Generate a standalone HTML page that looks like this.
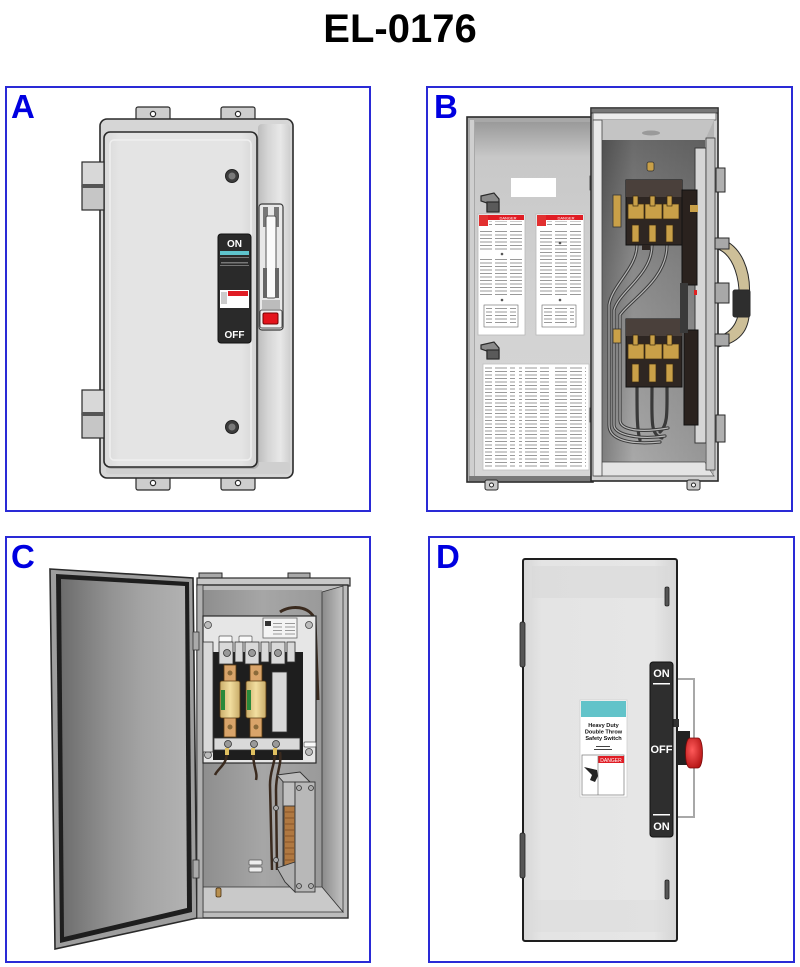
<!DOCTYPE html>
<html><head><meta charset="utf-8"><style>
html,body{margin:0;padding:0;background:#fff;}
svg{display:block}
</style></head><body>
<svg width="800" height="967" viewBox="0 0 800 967" xmlns="http://www.w3.org/2000/svg" font-family="Liberation Sans, Arial, sans-serif">
<defs>
 <pattern id="txt" width="15" height="3.5" patternUnits="userSpaceOnUse"><rect x="0" y="0" width="12" height="1" fill="#9a9a9a"/></pattern>
 <linearGradient id="bdoor" x1="0" y1="0" x2="0" y2="1"><stop offset="0" stop-color="#9a9a9a"/><stop offset="0.1" stop-color="#c8c8c8"/><stop offset="0.5" stop-color="#d2d2d2"/><stop offset="1" stop-color="#d6d6d6"/></linearGradient>
 <linearGradient id="bint" x1="0" y1="0" x2="0" y2="1"><stop offset="0" stop-color="#6a6a6a"/><stop offset="0.4" stop-color="#8a8a8a"/><stop offset="1" stop-color="#a8a8a8"/></linearGradient>
 <linearGradient id="bintx" x1="0" y1="0" x2="1" y2="0"><stop offset="0" stop-color="#000" stop-opacity="0.25"/><stop offset="0.3" stop-color="#000" stop-opacity="0"/><stop offset="1" stop-color="#000" stop-opacity="0.1"/></linearGradient>
 <linearGradient id="cdoor" x1="0" y1="0" x2="1" y2="0"><stop offset="0" stop-color="#6c6c6c"/><stop offset="0.2" stop-color="#808080"/><stop offset="0.4" stop-color="#939393"/><stop offset="0.65" stop-color="#a4a4a4"/><stop offset="1" stop-color="#b2b2b2"/></linearGradient>
 <linearGradient id="cback" x1="0" y1="0" x2="1" y2="0"><stop offset="0" stop-color="#8e8e8e"/><stop offset="0.5" stop-color="#a6a6a6"/><stop offset="1" stop-color="#9a9a9a"/></linearGradient>
 <linearGradient id="cwall" x1="0" y1="0" x2="1" y2="0"><stop offset="0" stop-color="#8a8a8a"/><stop offset="1" stop-color="#c2c2c2"/></linearGradient>
 <linearGradient id="astrip" x1="0" y1="0" x2="1" y2="0"><stop offset="0" stop-color="#bdbdbd"/><stop offset="0.3" stop-color="#d4d4d4"/><stop offset="0.7" stop-color="#e8e8e8"/><stop offset="1" stop-color="#cfcfcf"/></linearGradient>
 <linearGradient id="adoor" x1="0" y1="0" x2="1" y2="0"><stop offset="0" stop-color="#d9d9d9"/><stop offset="0.1" stop-color="#e4e4e4"/><stop offset="0.9" stop-color="#e4e4e4"/><stop offset="1" stop-color="#d4d4d4"/></linearGradient>
 <linearGradient id="ddoor" x1="0" y1="0" x2="1" y2="0"><stop offset="0" stop-color="#d6d6d6"/><stop offset="0.12" stop-color="#e4e4e4"/><stop offset="0.85" stop-color="#e6e6e6"/><stop offset="1" stop-color="#d4d4d4"/></linearGradient>
 <linearGradient id="fuse" x1="0" y1="0" x2="1" y2="0"><stop offset="0" stop-color="#c9ad6a"/><stop offset="0.5" stop-color="#f2dea0"/><stop offset="1" stop-color="#c9ad6a"/></linearGradient>
 <radialGradient id="knob" cx="0.4" cy="0.4" r="0.7"><stop offset="0" stop-color="#ff5a5a"/><stop offset="1" stop-color="#b01010"/></radialGradient>
</defs>

<!-- Title -->
<text x="400" y="42" text-anchor="middle" font-size="40" font-weight="bold" fill="#000">EL-0176</text>

<!-- Panel frames -->
<g fill="none" stroke="#2a2ad6" stroke-width="2">
 <rect x="6" y="87" width="364" height="424"/>
 <rect x="427" y="87" width="365" height="424"/>
 <rect x="6" y="537" width="364" height="425"/>
 <rect x="429" y="537" width="365" height="425"/>
</g>
<g font-size="33" font-weight="bold" fill="#0000e0">
 <text x="11" y="118">A</text>
 <text x="434" y="118">B</text>
 <text x="11" y="568">C</text>
 <text x="436" y="568">D</text>
</g>

<!-- ================= PANEL A ================= -->
<g stroke="#2a2a2a" stroke-width="1.2" fill="#cdcdcd">
 <rect x="136" y="107" width="34" height="16" rx="2"/>
 <rect x="221" y="107" width="34" height="16" rx="2"/>
 <rect x="136" y="474" width="34" height="16" rx="2"/>
 <rect x="221" y="474" width="34" height="16" rx="2"/>
</g>
<g fill="#fff" stroke="#2a2a2a" stroke-width="1.2">
 <circle cx="153" cy="114" r="2.6"/><circle cx="238" cy="114" r="2.6"/>
 <circle cx="153" cy="483" r="2.6"/><circle cx="238" cy="483" r="2.6"/>
</g>
<rect x="100" y="119" width="193" height="359" rx="7" fill="#d6d6d6" stroke="#2a2a2a" stroke-width="1.6"/>
<rect x="258" y="124" width="32" height="349" rx="4" fill="url(#astrip)"/>
<rect x="106" y="462" width="184" height="12" rx="3" fill="#cfcfcf"/>
<rect x="106" y="134" width="153" height="335" rx="6" fill="#9a9a9a" opacity="0.6"/>
<rect x="104" y="132" width="153" height="335" rx="6" fill="url(#adoor)" stroke="#2a2a2a" stroke-width="1.6"/>
<rect x="110" y="140" width="141" height="320" rx="4" fill="none" stroke="#efefef" stroke-width="1.5"/>
<!-- hinges -->
<g stroke="#2a2a2a" stroke-width="1.2">
 <rect x="82" y="162" width="22" height="24" fill="#d8d8d8"/>
 <rect x="82" y="186" width="22" height="24" fill="#c6c6c6"/>
 <rect x="82" y="390" width="22" height="24" fill="#d8d8d8"/>
 <rect x="82" y="414" width="22" height="24" fill="#c6c6c6"/>
</g>
<rect x="82" y="184" width="22" height="4" fill="#555"/>
<rect x="82" y="412" width="22" height="4" fill="#555"/>
<!-- screws -->
<g><circle cx="232" cy="176" r="6.5" fill="#3c3c3c" stroke="#222"/><circle cx="232" cy="176" r="3.5" fill="#7a7a7a"/>
<circle cx="232" cy="427" r="6.5" fill="#3c3c3c" stroke="#222"/><circle cx="232" cy="427" r="3.5" fill="#7a7a7a"/></g>
<!-- handle label -->
<rect x="218" y="234" width="33" height="109" rx="3" fill="#2a2a2a" stroke="#111"/>
<text x="234.5" y="247" text-anchor="middle" font-size="10" font-weight="bold" fill="#fff">ON</text>
<rect x="220" y="251" width="29" height="4" fill="#5ec3cc"/>
<rect x="220" y="257" width="29" height="0.8" fill="#888"/>
<rect x="221" y="262" width="27" height="1.5" fill="#777"/>
<rect x="220" y="265" width="29" height="0.8" fill="#888"/>
<rect x="220" y="290" width="29" height="18" fill="#fff"/>
<rect x="228" y="291" width="20" height="5" fill="#e01c24"/>
<rect x="221" y="292" width="6" height="12" fill="#ccc"/>
<text x="234.5" y="338" text-anchor="middle" font-size="10" font-weight="bold" fill="#fff">OFF</text>
<!-- lever -->
<rect x="259" y="204" width="24" height="126" rx="3" fill="#e8e8e8" stroke="#3a3a3a" stroke-width="1.2"/>
<rect x="263" y="207" width="5" height="20" fill="#777"/>
<rect x="274" y="207" width="5" height="20" fill="#777"/>
<rect x="266" y="216" width="10" height="82" rx="2" fill="#fafafa" stroke="#555"/>
<rect x="263" y="268" width="4" height="30" fill="#666"/>
<rect x="275" y="268" width="4" height="30" fill="#666"/>
<rect x="262" y="300" width="18" height="9" fill="#bcbcbc"/>
<rect x="260" y="310" width="22" height="18" rx="2" fill="#f0f0f0" stroke="#555"/>
<rect x="263" y="313" width="15" height="11" rx="1.5" fill="#e4141c" stroke="#700"/>

<!-- ================= PANEL B ================= -->
<!-- left door -->
<rect x="467" y="117" width="126" height="365" fill="#a8a8a8" stroke="#2a2a2a" stroke-width="1.6"/>
<rect x="470" y="120" width="4" height="358" fill="#cfcfcf"/>
<rect x="475" y="122" width="116" height="354" fill="url(#bdoor)"/>
<rect x="469" y="476" width="122" height="5" fill="#7a7a7a"/>
<rect x="511" y="178" width="45" height="19" fill="#fff"/>
<!-- latches -->
<g stroke="#2a2a2a" stroke-width="1.2">
 <path d="M481,196 L494,193 L499,199 L499,211 L487,211 L487,203 L481,201 Z" fill="#8a8a8a"/>
 <rect x="487" y="202" width="12" height="10" fill="#5a5a5a"/>
 <path d="M481,345 L494,342 L499,348 L499,358 L487,358 L487,351 L481,349 Z" fill="#8a8a8a"/>
 <rect x="487" y="350" width="12" height="9" fill="#5a5a5a"/>
</g>
<!-- danger labels -->
<g>
 <rect x="478" y="214" width="47" height="121" fill="#fff" stroke="#b8b8b8" stroke-width="0.8"/>
 <rect x="479" y="215" width="9" height="11" fill="#e23030"/>
 <rect x="488" y="215" width="36" height="5" fill="#e01c24"/>
 <text x="508" y="219.3" text-anchor="middle" font-size="4" fill="#fff">DANGER</text>
 <rect x="489" y="221" width="34" height="6" fill="url(#txt)"/>
 <rect x="480" y="229" width="43" height="22" fill="url(#txt)"/>
 <circle cx="502" cy="254" r="1.3" fill="#555"/>
 <rect x="480" y="258" width="43" height="38" fill="url(#txt)"/>
 <circle cx="502" cy="300" r="1.3" fill="#555"/>
 <rect x="484" y="305" width="34" height="22" fill="#fff" stroke="#666" stroke-width="0.6"/>
 <rect x="486" y="308" width="30" height="16" fill="url(#txt)"/>

 <rect x="536" y="214" width="48" height="121" fill="#fff" stroke="#b8b8b8" stroke-width="0.8"/>
 <rect x="537" y="215" width="9" height="11" fill="#e23030"/>
 <rect x="546" y="215" width="37" height="5" fill="#e01c24"/>
 <text x="566" y="219.3" text-anchor="middle" font-size="4" fill="#fff">DANGER</text>
 <rect x="547" y="221" width="34" height="6" fill="url(#txt)"/>
 <rect x="538" y="229" width="43" height="66" fill="url(#txt)"/>
 <circle cx="560" cy="243" r="1.3" fill="#555"/>
 <circle cx="560" cy="300" r="1.3" fill="#555"/>
 <rect x="542" y="305" width="34" height="22" fill="#fff" stroke="#666" stroke-width="0.6"/>
 <rect x="544" y="308" width="30" height="16" fill="url(#txt)"/>

 <rect x="483" y="364" width="106" height="106" fill="#fff" stroke="#c0c0c0" stroke-width="0.8"/>
 <rect x="485" y="367" width="30" height="100" fill="url(#txt)"/>
 <rect x="519" y="367" width="30" height="100" fill="url(#txt)"/>
 <rect x="553" y="367" width="33" height="100" fill="url(#txt)"/>
</g>
<!-- door hinges -->
<rect x="590" y="176" width="4" height="14" fill="#aaa" stroke="#333" stroke-width="0.8"/>
<rect x="590" y="408" width="4" height="14" fill="#aaa" stroke="#333" stroke-width="0.8"/>

<!-- right box -->
<rect x="591" y="108" width="127" height="373" fill="#cfcfcf" stroke="#2a2a2a" stroke-width="1.6"/>
<rect x="591" y="108" width="127" height="5" fill="#777" stroke="#2a2a2a" stroke-width="1"/>
<rect x="593" y="113" width="123" height="7" fill="#ececec" stroke="#555" stroke-width="0.8"/>
<polygon points="597,120 714,120 705,140 603,140" fill="#c4c4c4"/>
<rect x="602" y="140" width="103" height="322" fill="url(#bint)"/>
<rect x="602" y="140" width="103" height="322" fill="url(#bintx)"/>
<polygon points="602,462 705,462 714,476 595,476" fill="#e4e4e4" stroke="#444" stroke-width="0.8"/>
<polygon points="705,140 714,120 714,476 705,462" fill="#b4b4b4"/>
<rect x="593" y="120" width="9" height="356" fill="#e8e8e8" stroke="#444" stroke-width="0.8"/>
<ellipse cx="651" cy="133" rx="9" ry="2.5" fill="#9a9a9a"/>
<!-- right flange -->
<rect x="695" y="148" width="11" height="295" fill="#d6d6d6" stroke="#3a3a3a" stroke-width="1"/>
<rect x="706" y="138" width="9" height="332" fill="#c6c6c6" stroke="#3a3a3a" stroke-width="0.8"/>
<!-- knob top -->
<rect x="647" y="162" width="7" height="9" rx="2" fill="#c9a048" stroke="#333" stroke-width="0.8"/>
<!-- cables -->
<g fill="none" stroke-linecap="round">
 <g stroke="#3a3a3a" stroke-width="3.2">
  <path d="M637,245 C637,268 612,285 609,305 L609,425 C609,440 630,445 660,442"/>
  <path d="M652,245 C652,275 620,290 614,310 L614,425 C614,435 640,440 665,436"/>
  <path d="M667,245 C667,280 630,300 620,315 L620,420 C620,430 640,433 668,428"/>
  <path d="M637,387 C637,415 637,430 640,440"/>
  <path d="M652,387 C652,420 650,435 662,438"/>
  <path d="M667,387 C667,412 668,425 660,432"/>
 </g>
 <g stroke="#b8b8b8" stroke-width="1.2">
  <path d="M637,245 C637,268 612,285 609,305 L609,425 C609,440 630,445 660,442"/>
  <path d="M652,245 C652,275 620,290 614,310 L614,425 C614,435 640,440 665,436"/>
  <path d="M667,245 C667,280 630,300 620,315 L620,420 C620,430 640,433 668,428"/>
 </g>
</g>
<!-- bus bar -->
<rect x="613" y="195" width="8" height="32" fill="#c9a048" stroke="#333" stroke-width="0.8"/>
<rect x="613" y="329" width="8" height="14" fill="#c9a048" stroke="#333" stroke-width="0.8"/>
<!-- upper switch block -->
<rect x="626" y="180" width="56" height="65" fill="#2e2622" stroke="#111"/>
<rect x="626" y="180" width="56" height="17" fill="#4a403b"/>
<g fill="#c9a048" stroke="#3a2a10" stroke-width="0.7">
 <rect x="628" y="204" width="16" height="15"/><rect x="645" y="204" width="17" height="15"/><rect x="663" y="204" width="16" height="15"/>
 <rect x="633" y="196" width="5" height="10"/><rect x="650" y="196" width="5" height="10"/><rect x="667" y="196" width="5" height="10"/>
 <rect x="632" y="225" width="7" height="17"/><rect x="649" y="225" width="7" height="17"/><rect x="666" y="225" width="7" height="17"/>
</g>
<rect x="642" y="245" width="8" height="5" fill="#2e2622"/>
<!-- lower switch block -->
<rect x="626" y="319" width="56" height="68" fill="#2e2622" stroke="#111"/>
<rect x="626" y="319" width="56" height="17" fill="#4a403b"/>
<g fill="#c9a048" stroke="#3a2a10" stroke-width="0.7">
 <rect x="628" y="344" width="16" height="15"/><rect x="645" y="344" width="17" height="15"/><rect x="663" y="344" width="16" height="15"/>
 <rect x="633" y="335" width="5" height="10"/><rect x="650" y="335" width="5" height="10"/><rect x="667" y="335" width="5" height="10"/>
 <rect x="632" y="364" width="7" height="18"/><rect x="649" y="364" width="7" height="18"/><rect x="666" y="364" width="7" height="18"/>
</g>
<!-- black bar -->
<rect x="682" y="190" width="15" height="95" fill="#2a221e" stroke="#111"/>
<rect x="684" y="330" width="14" height="95" fill="#2a221e" stroke="#111"/>
<rect x="680" y="283" width="8" height="50" fill="#3a3a3a"/>
<rect x="694" y="290" width="3" height="5" fill="#e02020"/>
<rect x="690" y="205" width="8" height="7" fill="#c9a048"/>
<!-- external handle -->
<g stroke="#2a2a2a" stroke-width="1">
 <rect x="716" y="168" width="9" height="24" fill="#b0b0b0"/>
 <rect x="716" y="415" width="9" height="27" fill="#b0b0b0"/>
 <path d="M718,238 C742,244 752,272 749,300 C752,328 742,342 718,347 L718,337 C735,331 740,318 739,300 C740,282 735,256 718,249 Z" fill="#cdbf98"/>
 <rect x="715" y="238" width="14" height="11" fill="#a8a8a8"/>
 <rect x="715" y="283" width="14" height="20" fill="#a8a8a8"/>
 <rect x="715" y="334" width="14" height="12" fill="#a8a8a8"/>
 <rect x="733" y="290" width="17" height="27" rx="2" fill="#2e2e2e"/>
</g>
<!-- mounting tabs -->
<g fill="#c8c8c8" stroke="#2a2a2a" stroke-width="1">
 <rect x="485" y="480" width="13" height="10" rx="2"/>
 <rect x="687" y="480" width="13" height="10" rx="2"/>
</g>
<circle cx="491.5" cy="485" r="2" fill="#fff" stroke="#222"/>
<circle cx="693.5" cy="485" r="2" fill="#fff" stroke="#222"/>

<!-- ================= PANEL C ================= -->
<!-- door -->
<polygon points="50,569 193,578 197,918 55,949" fill="#9e9e9e" stroke="#2a2a2a" stroke-width="1.6"/>
<polygon points="56,574 189,582 192,912 60,943" fill="#1e1e1e"/>
<polygon points="61,579 185,586 187,908 64,937" fill="url(#cdoor)"/>
<!-- box -->
<g fill="#a8a8a8" stroke="#2a2a2a" stroke-width="1">
 <rect x="199" y="573" width="23" height="6"/>
 <rect x="288" y="573" width="22" height="6"/>
</g>
<rect x="197" y="578" width="153" height="8" fill="#c8c8c8" stroke="#2a2a2a" stroke-width="1.2"/>
<rect x="197" y="585" width="151" height="333" fill="#bcbcbc" stroke="#2a2a2a" stroke-width="1.4"/>
<rect x="203" y="590" width="119" height="297" fill="url(#cback)"/>
<polygon points="322,592 343,586 343,912 322,888" fill="url(#cwall)" stroke="#333" stroke-width="0.8"/>
<polygon points="203,887 322,887 343,912 203,912" fill="#c9c9c9" stroke="#333" stroke-width="0.8"/>
<rect x="197" y="585" width="6" height="333" fill="#b0b0b0" stroke="#333" stroke-width="0.8"/>
<rect x="193" y="632" width="6" height="18" fill="#aaa" stroke="#333" stroke-width="0.8"/>
<rect x="193" y="860" width="6" height="18" fill="#aaa" stroke="#333" stroke-width="0.8"/>
<!-- cables behind -->
<path d="M280,612 C290,605 310,605 315,620 L318,700" fill="none" stroke="#3a2a1e" stroke-width="3"/>
<!-- switch plate -->
<rect x="203" y="616" width="113" height="147" fill="#e6e6e6" stroke="#2a2a2a" stroke-width="1.2"/>
<rect x="263" y="618" width="34" height="20" fill="#f4f4f4" stroke="#666" stroke-width="0.8"/>
<rect x="265" y="621" width="6" height="5" fill="#333"/>
<rect x="273" y="622" width="22" height="14" fill="url(#txt)"/>
<g fill="#bbb" stroke="#444" stroke-width="0.8">
 <circle cx="208" cy="625" r="3.5"/><circle cx="309" cy="625" r="3.5"/>
 <circle cx="208" cy="755" r="3.5"/><circle cx="309" cy="752" r="3.5"/>
</g>
<g fill="#fafafa" stroke="#555" stroke-width="0.7">
 <rect x="219" y="636" width="13" height="6" rx="1"/>
 <rect x="239" y="636" width="13" height="6" rx="1"/>
 <rect x="304" y="742" width="12" height="5" rx="1"/>
</g>
<!-- pole assemblies -->
<rect x="213" y="652" width="90" height="108" fill="#1e1e1e"/>
<g fill="#d9d9d9" stroke="#333" stroke-width="0.8">
 <rect x="203" y="642" width="10" height="110"/>
 <rect x="219" y="642" width="14" height="22"/>
 <rect x="245" y="642" width="14" height="22"/>
 <rect x="271" y="642" width="14" height="22"/>
 <rect x="235" y="642" width="8" height="20"/>
 <rect x="261" y="642" width="8" height="20"/>
 <rect x="287" y="642" width="8" height="20"/>
 <rect x="272" y="672" width="15" height="60"/>
 <rect x="214" y="738" width="86" height="12"/>
</g>
<g fill="#999" stroke="#333" stroke-width="0.8">
 <circle cx="227" cy="653" r="3.5"/><circle cx="252" cy="653" r="3.5"/><circle cx="278" cy="653" r="3.5"/>
 <circle cx="228" cy="744" r="3.5"/><circle cx="254" cy="744" r="3.5"/><circle cx="276" cy="744" r="3.5"/>
</g>
<!-- fuses -->
<g stroke="#5a3a10" stroke-width="0.8">
 <rect x="224" y="665" width="12" height="72" fill="#d9a46a"/>
 <rect x="250" y="665" width="12" height="72" fill="#d9a46a"/>
 <rect x="220" y="681" width="20" height="37" rx="2" fill="url(#fuse)"/>
 <rect x="246" y="681" width="20" height="37" rx="2" fill="url(#fuse)"/>
</g>
<rect x="221" y="690" width="4" height="20" fill="#2a8a3a"/>
<rect x="247" y="690" width="4" height="20" fill="#2a8a3a"/>
<g fill="#8a6a3a"><circle cx="230" cy="673" r="2.5"/><circle cx="256" cy="673" r="2.5"/><circle cx="230" cy="727" r="2.5"/><circle cx="256" cy="727" r="2.5"/></g>
<!-- wires from poles -->
<g fill="none" stroke="#3a2a1e" stroke-width="2.5">
 <path d="M227,752 C227,765 218,768 215,775"/>
 <path d="M253,752 C253,768 258,772 256,780"/>
 <path d="M275,752 C275,765 270,770 270,785 L272,870"/>
 <path d="M280,752 C282,765 276,772 276,790 L277,870"/>
</g>
<g fill="#e0c060"><rect x="225" y="748" width="4" height="7"/><rect x="251" y="748" width="4" height="7"/><rect x="273" y="748" width="4" height="7"/></g>
<!-- terminal block -->
<g stroke="#333" stroke-width="0.9">
 <polygon points="277,775 300,772 310,782 287,786" fill="#bdbdbd"/>
 <rect x="283" y="782" width="12" height="87" fill="#c0c0c0"/>
 <rect x="284" y="806" width="11" height="60" fill="#b07840"/>
 <rect x="295" y="782" width="20" height="110" fill="#b8b8b8"/>
 <polygon points="277,868 295,862 295,892 285,882" fill="#b0b0b0"/>
</g>
<g fill="none" stroke="#7a4a20" stroke-width="0.8">
 <path d="M285,812 h9 M285,818 h9 M285,824 h9 M285,830 h9 M285,836 h9 M285,842 h9 M285,848 h9 M285,854 h9 M285,860 h9"/>
</g>
<g fill="#aaa" stroke="#333" stroke-width="0.8">
 <circle cx="299" cy="788" r="2.5"/><circle cx="311" cy="788" r="2.5"/>
 <circle cx="299" cy="886" r="2.5"/><circle cx="311" cy="886" r="2.5"/>
 <circle cx="276" cy="808" r="2.5"/><circle cx="276" cy="860" r="2.5"/>
</g>
<g fill="#eee" stroke="#555" stroke-width="0.7">
 <rect x="249" y="860" width="13" height="5" rx="1"/>
 <rect x="249" y="867" width="13" height="5" rx="1"/>
</g>
<rect x="216" y="888" width="5" height="9" rx="1.5" fill="#b89050" stroke="#4a3010" stroke-width="0.8"/>

<!-- ================= PANEL D ================= -->
<rect x="677" y="679" width="17" height="138" fill="none" stroke="#a8a8a8" stroke-width="2"/>
<rect x="523" y="559" width="154" height="382" rx="2" fill="url(#ddoor)" stroke="#1e1e1e" stroke-width="2"/>
<rect x="532" y="566" width="136" height="32" fill="#d8d8d8" opacity="0.6"/>
<rect x="532" y="900" width="136" height="32" fill="#dcdcdc" opacity="0.5"/>
<g fill="#555" stroke="#222" stroke-width="0.8">
 <rect x="520" y="622" width="5" height="45" rx="2"/>
 <rect x="520" y="833" width="5" height="45" rx="2"/>
 <rect x="665" y="587" width="4" height="19" rx="1.5"/>
 <rect x="665" y="880" width="4" height="19" rx="1.5"/>
</g>
<!-- label -->
<rect x="580" y="700" width="47" height="97" fill="#fff" stroke="#d0d0d0" stroke-width="0.8"/>
<rect x="581" y="701" width="45" height="16" fill="#62c3c9"/>
<g font-size="5.6" font-weight="bold" fill="#111" text-anchor="middle">
 <text x="603.5" y="727">Heavy Duty</text>
 <text x="603.5" y="733.5">Double Throw</text>
 <text x="603.5" y="740">Safety Switch</text>
</g>
<rect x="596" y="746" width="14" height="1" fill="#444"/>
<rect x="594" y="749" width="18" height="1" fill="#444"/>
<rect x="582" y="755" width="42" height="40" fill="#fff" stroke="#777" stroke-width="0.7"/>
<rect x="598" y="756" width="26" height="7" fill="#e01c24"/>
<text x="611" y="762" text-anchor="middle" font-size="5" fill="#fff">DANGER</text>
<line x1="598" y1="756" x2="598" y2="795" stroke="#777" stroke-width="0.7"/>
<path d="M584,767 L592,775 L590,780 L595,782 L598,776 L597,770 Z" fill="#222"/>
<!-- handle -->
<rect x="677" y="731" width="13" height="34" fill="#222"/>
<rect x="673" y="719" width="6" height="8" fill="#333"/>
<path d="M690,738 C684,738 684,768 690,768 L698,768 C704,768 704,738 698,738 Z" fill="url(#knob)" stroke="#7a0a0a" stroke-width="0.8"/>
<rect x="650" y="662" width="23" height="175" rx="3" fill="#2e2e2e" stroke="#111"/>
<g font-size="11" font-weight="bold" fill="#fff" text-anchor="middle">
 <text x="661.5" y="677">ON</text>
 <text x="661.5" y="753">OFF</text>
 <text x="661.5" y="830">ON</text>
</g>
<rect x="653" y="683" width="17" height="1.5" fill="#fff"/>
<rect x="653" y="814" width="17" height="1.5" fill="#fff"/>
</svg>
</body></html>
